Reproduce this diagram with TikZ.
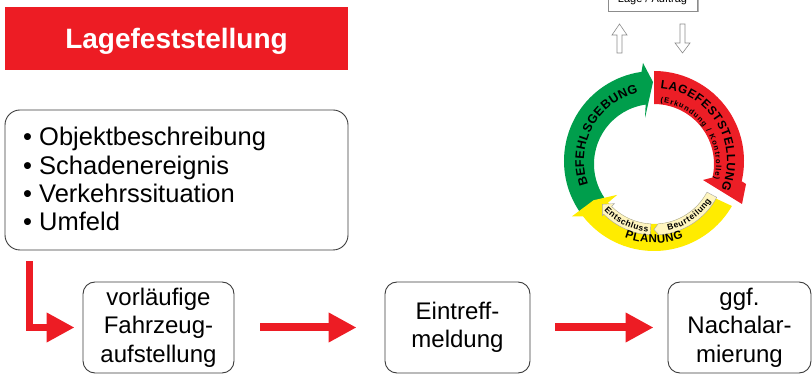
\documentclass[tikz,border=0pt]{standalone}
\usepackage{fontspec}
\setmainfont{Liberation Sans}
\usetikzlibrary{arrows.meta,calc,decorations.text,shadows}

\definecolor{titlered}{RGB}{237,28,36}
\definecolor{ringgreen}{RGB}{0,158,76}
\definecolor{ringred}{RGB}{236,30,38}
\definecolor{ringyellow}{RGB}{255,236,0}
\definecolor{bandyellow}{RGB}{255,245,190}
\definecolor{boxline}{RGB}{60,60,60}

\tikzset{
  flowbox/.style={draw=boxline, line width=0.9pt, rounded corners=12pt, align=center,
    inner sep=0pt, minimum height=91pt, font=\fontsize{24}{28.5}\selectfont},
  redarrow/.style={draw=titlered, line width=8pt, line join=miter,
    -{Triangle[length=28pt,width=28pt]}},
  hollow/.style={draw=black!45, fill=white, line width=0.6pt},
  band/.style={fill=bandyellow, draw=black!35, line width=0.4pt},
  ringtext/.style={decorate, decoration={text along path, text align={fit to path}, text={#1}}},
}

\begin{document}
\begin{tikzpicture}[x=1pt,y=1pt]
    \useasboundingbox (0,0) rectangle (812,375);
    \clip (0,0) rectangle (812,375);

    % left column
    \node[fill=titlered, minimum width=343pt, minimum height=63pt, text=white, text depth=0pt,
      font=\bfseries\fontsize{28}{28}\selectfont] (title) at (176.5,336.5) {Lagefeststellung};
    \node[draw=boxline, line width=0.9pt, rounded corners=15pt, minimum width=343pt,
      minimum height=140pt] (facts) at (176.5,195) {};
    \foreach \t [count=\i] in {Objektbeschreibung,Schadenereignis,Verkehrssituation,Umfeld} {
        \node[anchor=base west, inner sep=0pt, font=\fontsize{25.5}{25.5}\selectfont] (item\i)
          at (23,{229-28.3*(\i-1)}) {\textbullet\ \t};
    }

    % flow boxes
    \node[flowbox, minimum width=151pt] (b1) at (158.5,47.5) {vorläufige\\Fahrzeug-\\aufstellung};
    \node[flowbox, minimum width=145pt] (b2) at (457.5,47.5) {Eintreff-\\meldung};
    \node[flowbox, minimum width=143pt] (b3) at (739.5,47.5) {ggf.\\Nachalar-\\mierung};

    \coordinate (lstart) at ([shift={(25pt,-11pt)}]facts.south west);
    \draw[redarrow, line width=7pt] (lstart) |- ([xshift=-8pt]b1.west);
    \draw[redarrow] ([xshift=26pt]b1.east) -- ([xshift=-28pt]b2.west);
    \draw[redarrow] ([xshift=25pt]b2.east) -- ([xshift=-14pt]b3.west);

    % Lage / Auftrag
    \node[draw=black!45, fill=white, line width=0.6pt,
      drop shadow={shadow xshift=1.5pt, shadow yshift=-1.5pt, fill=black!30, opacity=1},
      minimum width=89pt, text height=12pt, text depth=4pt, inner ysep=4pt, anchor=base,
      font=\fontsize{11}{11}\selectfont] (lage) at (652.5,372) {Lage / Auftrag};
    \draw[hollow] (617,322) -- (617,340) -- (612,340) -- (619.5,351) -- (627,340) -- (622,340) -- (622,322) -- cycle;
    \draw[hollow] (680,351) -- (680,332) -- (675,332) -- (682.5,322) -- (690,332) -- (685,332) -- (685,351) -- cycle;

    % circle
    \coordinate (co) at (654,214);
    \coordinate (ci) at (654,211);
    \fill[ringgreen] ([shift={(214:90pt)}]co) arc[start angle=214, end angle=98, radius=90pt]
      -- (643,312) -- (653,293) -- (645,257)
      -- ([shift={(98:60pt)}]ci) arc[start angle=98, end angle=214, radius=60pt] -- cycle;
    \fill[ringred] ([shift={(90:90pt)}]co) arc[start angle=90, end angle=-13, radius=90pt]
      -- (746,191) -- (742,171) -- (703,195)
      -- ([shift={(-13:60pt)}]ci) arc[start angle=-13, end angle=90, radius=60pt] -- cycle;
    \fill[ringyellow] ([shift={(-30:90pt)}]co) arc[start angle=-30, end angle=-142, radius=90pt]
      -- ([shift={(-146:99pt)}]co) -- ([shift={(-147:72pt)}]co) -- ([shift={(-140:48pt)}]ci)
      -- ([shift={(-140:60pt)}]ci) arc[start angle=-140, end angle=-30, radius=60pt] -- cycle;
    \filldraw[band] ([shift={(-28:71pt)}]ci) arc[start angle=-28, end angle=-86, radius=71pt]
      -- ([shift={(-90:65.5pt)}]ci) -- ([shift={(-86:60pt)}]ci)
      arc[start angle=-86, end angle=-28, radius=60pt] -- cycle;
    \filldraw[band] ([shift={(-93:71pt)}]ci) arc[start angle=-93, end angle=-135, radius=71pt]
      -- ([shift={(-135:73pt)}]ci) -- ([shift={(-142:65.5pt)}]ci) -- ([shift={(-135:56pt)}]ci)
      -- ([shift={(-135:60pt)}]ci) arc[start angle=-135, end angle=-93, radius=60pt] -- cycle;

    \path[ringtext={|\bfseries\fontsize{12.5}{12.5}\selectfont|BEFEHLSGEBUNG}]
      ([shift={(200:70pt)}]co) arc[start angle=200, end angle=103, radius=70pt];
    \path[ringtext={|\bfseries\fontsize{12}{12}\selectfont|LAGEFESTSTELLUNG}]
      ([shift={(85:73pt)}]co) arc[start angle=85, end angle=-23, radius=73pt];
    \path[ringtext={|\bfseries\fontsize{7.5}{7.5}\selectfont|(Erkundung / Kontrolle)}]
      ([shift={(84:62pt)}]ci) arc[start angle=84, end angle=-14, radius=62pt];
    \path[ringtext={|\bfseries\fontsize{11.5}{11.5}\selectfont|PLANUNG}]
      ([shift={(249:82pt)}]co) arc[start angle=249, end angle=291, radius=82pt];
    \path[ringtext={|\bfseries\fontsize{8.5}{8.5}\selectfont|Beurteilung}]
      ([shift={(-78:68pt)}]ci) arc[start angle=-78, end angle=-33, radius=68pt];
    \path[ringtext={|\bfseries\fontsize{8.5}{8.5}\selectfont|Entschluss}]
      ([shift={(223:68pt)}]ci) arc[start angle=223, end angle=265, radius=68pt];
\end{tikzpicture}
\end{document}
